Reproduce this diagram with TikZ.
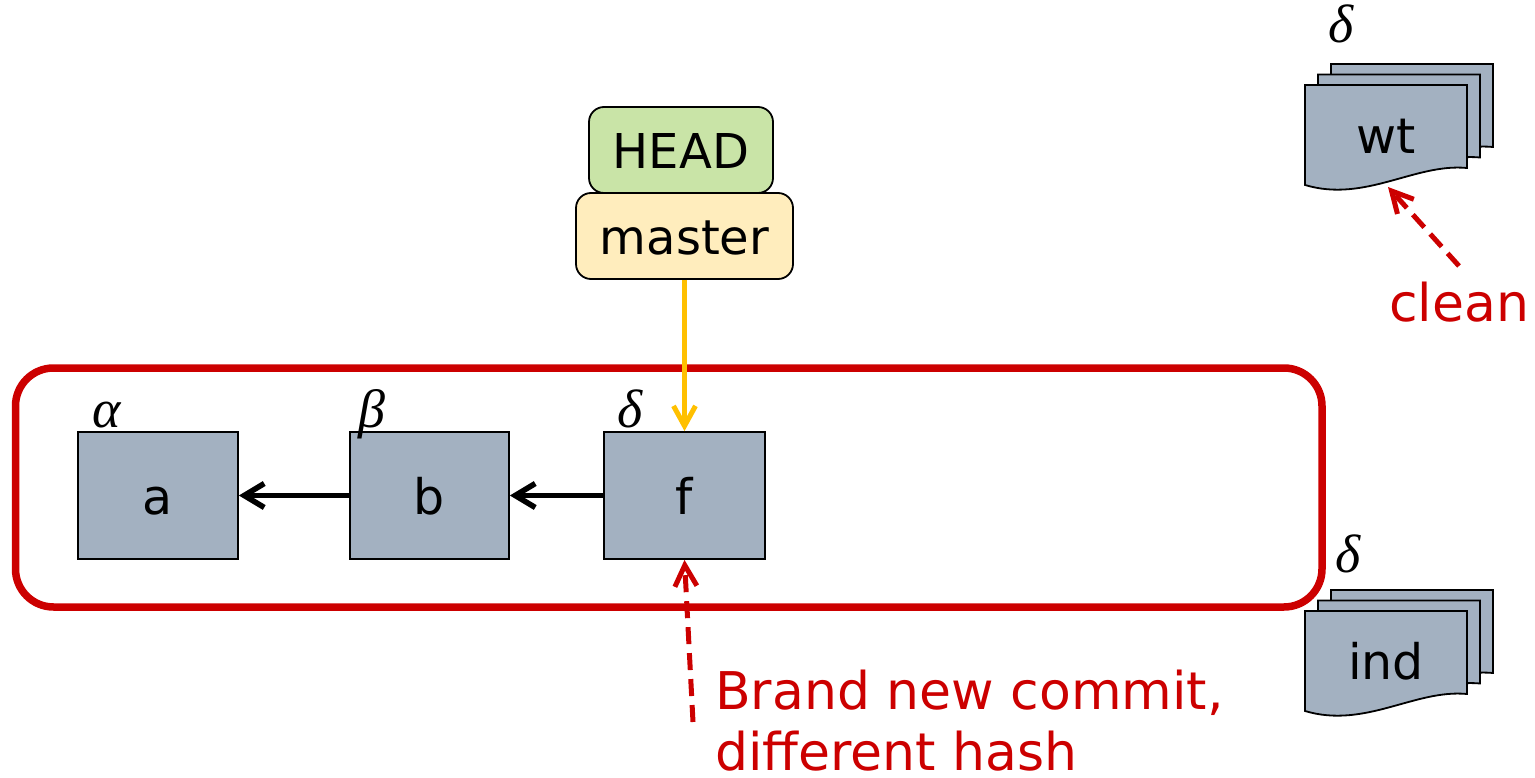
\documentclass[tikz,border=0pt]{standalone}
\usepackage{fontspec}
\setmainfont{DejaVu Sans}
\newfontfamily\greekfont{Liberation Serif}
\usetikzlibrary{arrows.meta}

\definecolor{boxgray}{RGB}{163,177,193}
\definecolor{headgreen}{RGB}{201,228,167}
\definecolor{branchyellow}{RGB}{255,237,189}
\definecolor{pointerorange}{RGB}{255,192,0}
\definecolor{noted}{RGB}{204,0,0}

\tikzset{
  commit/.style={draw=black, line width=1.8pt, fill=boxgray,
    minimum width=160pt, minimum height=127pt, inner sep=0pt,
    text height=38pt, text depth=0pt, font=\fontsize{49}{56}\selectfont},
  refbox/.style={draw=black, line width=1.8pt, rounded corners=15pt,
    minimum height=86pt, inner sep=0pt,
    text height=38pt, text depth=0pt, font=\fontsize{48}{56}\selectfont},
  sheet/.style={draw=black, line width=1.8pt, fill=boxgray},
  docsheet/.pic={\path[sheet] (0,0) -- (162,0) -- (162,83)
      .. controls (110,78) and (60,118) .. (0,100) -- cycle;},
  doclabel/.style={inner sep=0pt, text height=38pt, text depth=0pt,
    font=\fontsize{49}{56}\selectfont},
  greek/.style={anchor=base west, inner sep=0pt,
    font=\greekfont\itshape\fontsize{54}{60}\selectfont},
  note/.style={text=noted, inner sep=0pt, align=left, text depth=0pt,
    font=\fontsize{52}{61}\selectfont},
  parent/.style={-{Straight Barb[length=20pt,width=24pt]}, line width=5.5pt},
  pointer/.style={-{Straight Barb[length=20pt,width=22pt]}, line width=5pt,
    draw=pointerorange},
  remark/.style={-{Straight Barb[length=21pt,width=22pt]}, line width=5pt,
    draw=noted, dash pattern=on 17pt off 9pt},
}

\begin{document}
\begin{tikzpicture}[x=1pt, y=-1pt]
\useasboundingbox (0,0) rectangle (1535,778);

% repository frame
\node[draw=noted, line width=7.5pt, rounded corners=38pt, inner sep=0pt,
  minimum width=1306.5pt, minimum height=239pt] (repo) at (668.75,487.5) {};

% commits
\node[commit] (a) at (158,495.5) {a};
\node[commit, minimum width=159pt] (b) at (429.5,495.5) {b};
\node[commit, minimum width=161pt] (f) at (684.5,495.5) {f};

\node[greek] (ga) at (92,427) {α};
\node[greek] (gb) at (358,427) {β};
\node[greek] (gf) at (617,427) {δ};

\draw[parent] (b.west) -- (a.east);
\draw[parent] (f.west) -- (b.east);

% references
\node[refbox, fill=headgreen, minimum width=184pt] (head) at (681,150) {HEAD};
\node[refbox, fill=branchyellow, minimum width=217pt] (master) at (684.5,236) {master};
\draw[pointer] (master.south) -- (f.north);

% working tree
\pic at (1331,64) {docsheet};
\pic at (1318,74.5) {docsheet};
\pic at (1305,85) {docsheet};
\node[doclabel] (wt) at (1386,135) {wt};
\node[greek] (gwt) at (1328,43) {δ};

% index
\pic at (1331,590) {docsheet};
\pic at (1318,600.5) {docsheet};
\pic at (1305,611) {docsheet};
\node[doclabel] (ind) at (1386,660) {ind};
\node[greek] (gind) at (1335,572) {δ};

% remarks
\node[note, anchor=base west] (clean) at (1389,322) {clean};
\coordinate (cleantail) at (1459,266);
\coordinate (wtedge) at (1388,187);
\draw[remark] (cleantail) -- (wtedge);

\node[note, anchor=base west] (newnote) at (715,770) {Brand new commit,\\different hash};
\coordinate (newtail) at (693,722);
\draw[remark] (newtail) -- (f.south);
\end{tikzpicture}
\end{document}
